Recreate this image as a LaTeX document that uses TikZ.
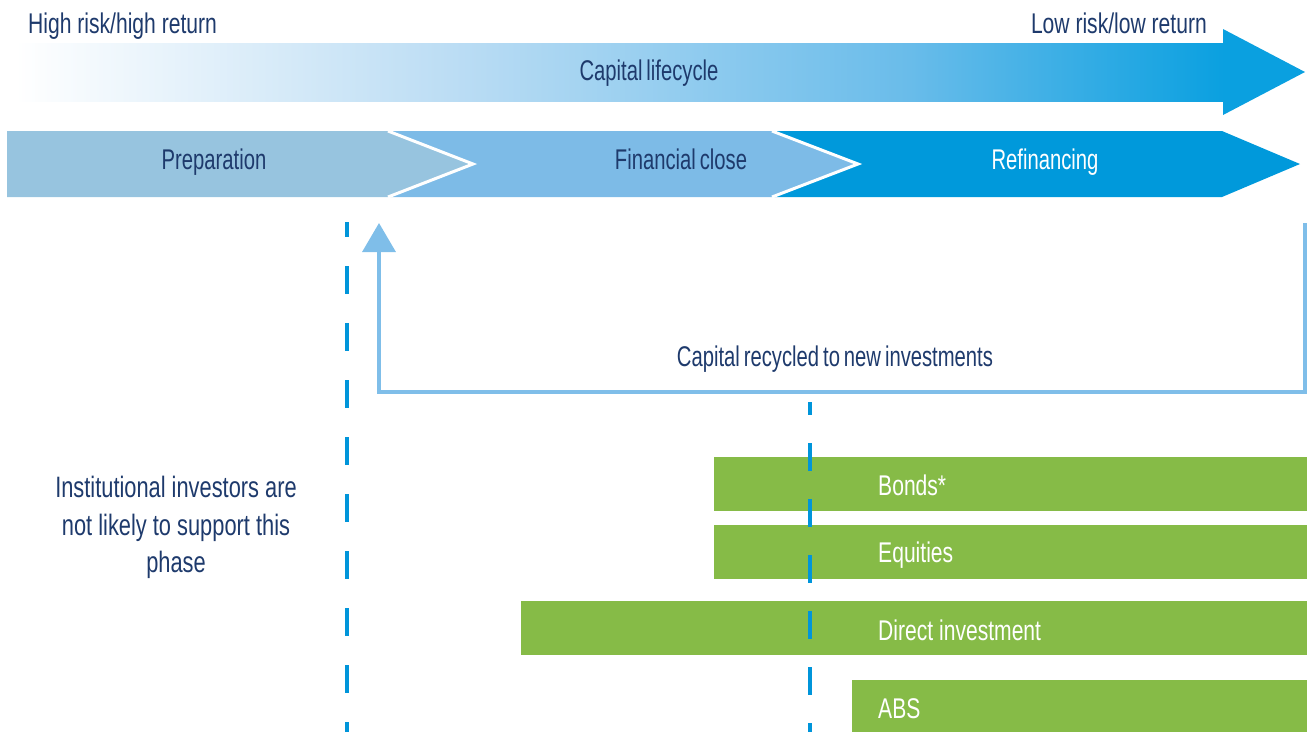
\documentclass[tikz,border=0pt]{standalone}
\usepackage{fontspec}
\setmainfont[FakeStretch=0.74]{Liberation Sans}
\newfontfamily\midfont[FakeStretch=0.71,WordSpace=0.7]{Liberation Sans}
\usetikzlibrary{arrows.meta}
\definecolor{navy}{HTML}{1E3A6C}
\definecolor{prepc}{HTML}{97C4DF}
\definecolor{finc}{HTML}{7DBBE7}
\definecolor{refic}{HTML}{0099DB}
\definecolor{greenc}{HTML}{86BB47}
\definecolor{dashc}{HTML}{0095DA}
\definecolor{loopc}{HTML}{7FBEE9}
\definecolor{sA}{HTML}{BCDDF4}
\definecolor{sB}{HTML}{69BCEA}
\definecolor{sC}{HTML}{0AA0E0}
\pgfdeclarehorizontalshading{lifecycle}{100bp}{color(0bp)=(white); color(25bp)=(white); color(43bp)=(sA); color(62bp)=(sB); color(75bp)=(sC); color(100bp)=(sC)}
\tikzset{
  lbl/.style={text=navy, font=\fontsize{28.5}{37}\selectfont, inner sep=0pt, anchor=base},
  midlbl/.style={text=navy, font=\midfont\fontsize{28.5}{37}\selectfont, inner sep=0pt, anchor=base},
  wlbl/.style={text=white, font=\fontsize{28.5}{37}\selectfont, inner sep=0pt, anchor=base west},
  notelbl/.style={text=navy, font=\fontsize{29.5}{37}\selectfont, inner sep=0pt, anchor=base},
  bar/.style={fill=greenc, draw=none},
  dashline/.style={draw=dashc, line width=3.5pt},
  loopline/.style={draw=loopc, line width=3.5pt, line join=miter},
  sep/.style={draw=white, line width=3pt}
}
\begin{document}
\begin{tikzpicture}[x=1pt,y=-1pt]
\useasboundingbox (0,0) rectangle (1307,732);
% top arrow
\fill[shading=lifecycle] (15,43) rectangle (1224,101);
\fill[sC] (1223,29) -- (1305,72) -- (1223,115) -- cycle;
\node[lbl, anchor=base west] (hr) at (28,33) {High risk/high return};
\node[lbl, anchor=base east] (lr) at (1207,33) {Low risk/low return};
\node[midlbl] (cl) at (649,80) {Capital lifecycle};
% chevrons
\fill[refic] (772,131) -- (1222,131) -- (1300,164) -- (1222,197) -- (772,197) -- (858,164) -- cycle;
\fill[finc] (388,131) -- (772,131) -- (858,164) -- (772,197) -- (388,197) -- (473,164) -- cycle;
\fill[prepc] (7,131) -- (388,131) -- (473,164) -- (388,197) -- (7,197) -- cycle;
\draw[sep] (388,131) -- (473,164) -- (388,197);
\draw[sep] (772,131) -- (858,164) -- (772,197);
\node[midlbl] (prep) at (214,169) {Preparation};
\node[midlbl] (fin) at (681,169) {Financial close};
\node[midlbl, text=white] (refi) at (1045,169) {Refinancing};
% loop
\coordinate (lstart) at (1305,223);
\coordinate (lcorner) at (379,392);
\coordinate (lend) at (379,223);
\draw[loopline, -{Triangle[width=33pt,length=29pt]}] (lstart) |- (lcorner) -- (lend);
\node[midlbl] (rec) at (835,366) {Capital recycled to new investments};
% green bars
\fill[bar] (714,457) rectangle (1307,511);
\fill[bar] (714,525) rectangle (1307,579);
\fill[bar] (521,601) rectangle (1307,655);
\fill[bar] (852,680) rectangle (1307,732);
\node[wlbl] (bonds) at (878,495) {Bonds*};
\node[wlbl] (eq) at (878,562) {Equities};
\node[wlbl] (di) at (878,640) {Direct investment};
\node[wlbl] (abs) at (878,718) {ABS};
% left note
\node[notelbl] (note1) at (176,497) {Institutional investors are};
\node[notelbl] (note2) at (176,535) {not likely to support this};
\node[notelbl] (note3) at (176,572) {phase};
% dashed lines
\draw[dashline, dash pattern=on 28pt off 29pt, dash phase=13pt] (347,222) -- (347,732);
\draw[dashline, dash pattern=on 28pt off 28pt, dash phase=15pt] (810,402) -- (810,732);
\end{tikzpicture}
\end{document}
